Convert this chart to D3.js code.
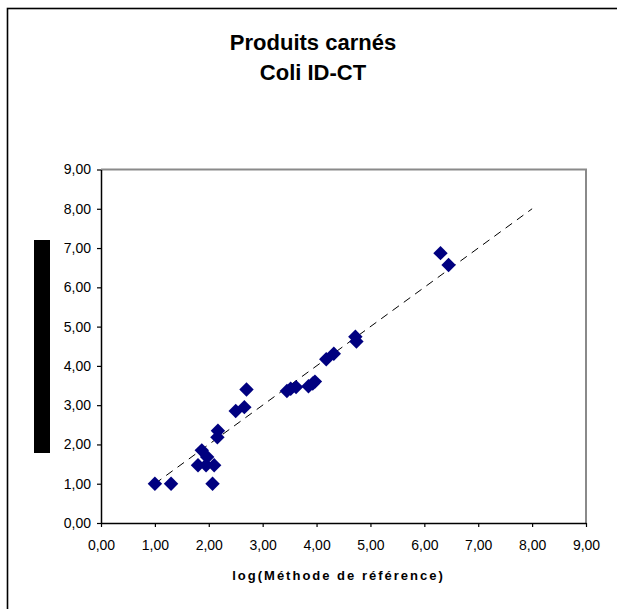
<!DOCTYPE html>
<html>
<head>
<meta charset="utf-8">
<script src="https://cdn.jsdelivr.net/npm/d3@7"></script>
<style>
  body { margin: 0; background: #fff; overflow: hidden; }
  svg { display: block; font-family: 'Liberation Sans', Arial, sans-serif; }
</style>
</head>
<body>
<div id="chart"></div>
<script>
const TITLE_LINES = ['Produits carnés', 'Coli ID-CT']
const X_LABEL = 'log(Méthode de référence)'

const xTicks = [0, 1, 2, 3, 4, 5, 6, 7, 8, 9]
const yTicks = [0, 1, 2, 3, 4, 5, 6, 7, 8, 9]

const xValues = [1.00, 1.30, 2.07, 1.80, 1.95, 2.10, 1.87, 1.97, 2.16, 2.17, 2.50, 2.66, 2.70,
  3.45, 3.52, 3.62, 3.85, 3.93, 3.97, 4.18, 4.32, 4.72, 4.74, 6.30, 6.45]
const yValues = [1.00, 1.00, 1.00, 1.47, 1.47, 1.47, 1.85, 1.68, 2.18, 2.35, 2.85, 2.95, 3.40,
  3.36, 3.42, 3.46, 3.48, 3.55, 3.60, 4.17, 4.31, 4.74, 4.62, 6.87, 6.57]

// reference line y = x
const lineX = [1, 8]
const lineY = [1, 8]

const width = 617
const height = 609
const margin = { top: 169.5, right: 31, bottom: 86, left: 101 }
const plotW = width - margin.left - margin.right
const plotH = height - margin.top - margin.bottom

const fmt = (d) => d3.format('.2f')(d).replace('.', ',')

const svg = d3.select('#chart').append('svg')
  .attr('width', width)
  .attr('height', height)

// outer chart border (runs off the right and bottom edges)
svg.append('rect')
  .attr('x', 7.5)
  .attr('y', 8.5)
  .attr('width', 640)
  .attr('height', 640)
  .attr('fill', '#fff')
  .attr('stroke', '#000')
  .attr('stroke-width', 1.6)

svg.append('text')
  .attr('text-anchor', 'middle')
  .style('font-size', '22px')
  .style('font-weight', 'bold')
  .selectAll('tspan')
  .data(TITLE_LINES)
  .join('tspan')
    .attr('x', 313)
    .attr('y', (d, i) => 50 + i * 29.5)
    .text((d) => d)

const g = svg.append('g')
  .attr('transform', `translate(${margin.left}, ${margin.top})`)

const x = d3.scaleLinear().domain([0, 9]).range([0, plotW])
const y = d3.scaleLinear().domain([0, 9]).range([plotH, 0])

// top / right plot border
g.append('path')
  .attr('d', `M0,0H${plotW}V${plotH}`)
  .attr('fill', 'none')
  .attr('stroke', '#8a8a8a')
  .attr('stroke-width', 2)

const xAxis = d3.axisBottom(x).tickValues(xTicks).tickFormat(fmt)
  .tickSizeInner(4).tickSizeOuter(0).tickPadding(13)
const yAxis = d3.axisLeft(y).tickValues(yTicks).tickFormat(fmt)
  .tickSizeInner(4).tickSizeOuter(0).tickPadding(6)

const xAxisG = g.append('g')
  .attr('transform', `translate(0, ${plotH})`)
  .call(xAxis)
const yAxisG = g.append('g').call(yAxis)

;[xAxisG, yAxisG].forEach((a) => {
  a.select('.domain').attr('stroke', '#000').attr('stroke-width', 1.5)
  a.selectAll('.tick line').attr('stroke', '#000').attr('stroke-width', 1.2)
  a.selectAll('text')
    .attr('fill', '#000')
    .style('font-size', '14px')
    .style('font-family', "'Liberation Sans', Arial, sans-serif")
})

g.append('text')
  .attr('x', plotW / 2 - 5)
  .attr('y', plotH + 57)
  .attr('text-anchor', 'middle')
  .style('font-size', '13px')
  .style('font-weight', 'bold')
  .style('letter-spacing', '2px')
  .text(X_LABEL)

// y axis title is blacked out in the source
svg.append('rect')
  .attr('x', 34)
  .attr('y', 240)
  .attr('width', 16)
  .attr('height', 213)
  .attr('fill', '#000')

g.append('path')
  .datum(d3.zip(lineX, lineY))
  .attr('d', d3.line().x((d) => x(d[0])).y((d) => y(d[1])))
  .attr('fill', 'none')
  .attr('stroke', '#000')
  .attr('stroke-width', 1)
  .attr('stroke-dasharray', '8,6')

const diamond = d3.symbol().type(d3.symbolSquare).size(104)

g.selectAll('.pt')
  .data(d3.zip(xValues, yValues))
  .join('path')
    .attr('class', 'pt')
    .attr('d', diamond)
    .attr('transform', (d) => `translate(${x(d[0])}, ${y(d[1])}) rotate(45)`)
    .attr('fill', '#000080')
</script>
</body>
</html>
